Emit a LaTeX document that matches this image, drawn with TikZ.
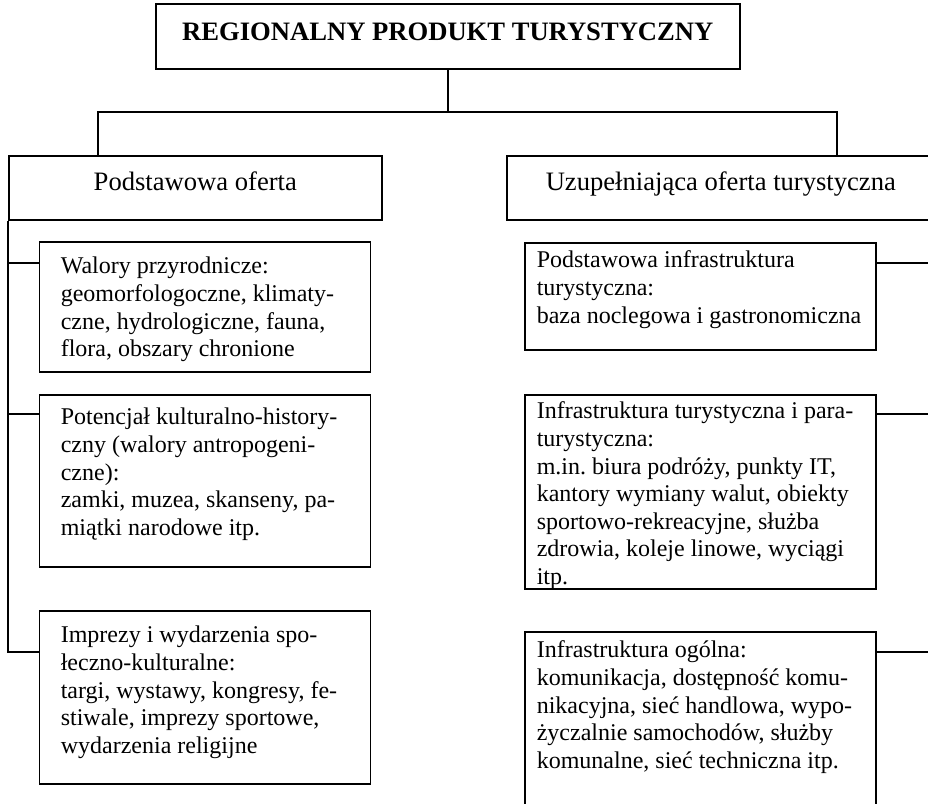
\documentclass[tikz,border=0pt]{standalone}
\usepackage{fontspec}
\setmainfont{Liberation Serif}
\frenchspacing
\tikzset{ln/.style={line width=1.6pt},bx/.style={draw,ln,inner sep=0pt,anchor=north west},
hd/.style={bx,font=\fontsize{26.6}{30}\selectfont,text height=35pt,text depth=29pt},
it/.style={bx,align=flush left,font=\fontsize{24}{27.6}\selectfont},
lv/.style={it,inner xsep=21.5pt,text width=288pt},rv/.style={it,inner xsep=12pt,text width=327pt}}
\begin{document}
\begin{tikzpicture}[x=1pt,y=-1pt]
\path[use as bounding box,clip](0,0)rectangle(928,803);
\node[bx,font={\fontsize{26.6}{30}\selectfont\bfseries},minimum width=584pt,text height=37pt,text depth=28pt](T)at(155,3){REGIONALNY PRODUKT TURYSTYCZNY};
\node[hd,minimum width=373pt](P)at(8,155){Podstawowa oferta};
\node[hd,minimum width=428pt](U)at(506,155){Uzupełniająca oferta turystyczna};
% lewa kolumna
\node[lv,text height=32pt,text depth=98pt](L1)at(38.5,241){Walory przyrodnicze:\\geomorfologoczne, klimaty-\\czne, hydrologiczne, fauna,\\flora, obszary chronione};
\node[lv,text height=30pt,text depth=142pt](L2)at(38.5,394){Potencjał kulturalno-history-\\czny (walory antropogeni-\\czne):\\zamki, muzea, skanseny, pa-\\miątki narodowe itp.};
\node[lv,text height=32pt,text depth=141pt](L3)at(38.5,610){Imprezy i wydarzenia spo-\\łeczno-kulturalne:\\targi, wystawy, kongresy, fe-\\stiwale, imprezy sportowe,\\wydarzenia religijne};
% prawa kolumna
\node[rv,text height=25pt,text depth=82pt](R1)at(524,242){Podstawowa infrastruktura\\turystyczna:\\baza noclegowa i gastronomiczna};
\node[rv,text height=24pt,text depth=170pt](R2)at(524,394){Infrastruktura turystyczna i para-\\turystyczna:\\m.in. biura podróży, punkty IT,\\kantory wymiany walut, obiekty\\sportowo-rekreacyjne, służba\\zdrowia, koleje linowe, wyciągi\\itp.};
\node[rv,text height=26pt,text depth=200pt](R3)at(524,631){Infrastruktura ogólna:\\komunikacja, dostępność komu-\\nikacyjna, sieć handlowa, wypo-\\życzalnie samochodów, służby\\komunalne, sieć techniczna itp.};
\coordinate(F)at(T.south|-0,112);
\draw[ln](T.south)--(F);
\draw[ln]([xshift=-97.5]P.north)|-(F)-|([xshift=116]U.north);
\foreach\n/\d in{L1/22,L2/20,L3/42}\draw[ln]([yshift=-\d]\n.north west)-|(P.south west);
\foreach\n/\d in{R1/21,R2/20,R3/21}\draw[ln]([yshift=-\d]\n.north east)-|(U.south east);
\end{tikzpicture}
\end{document}
